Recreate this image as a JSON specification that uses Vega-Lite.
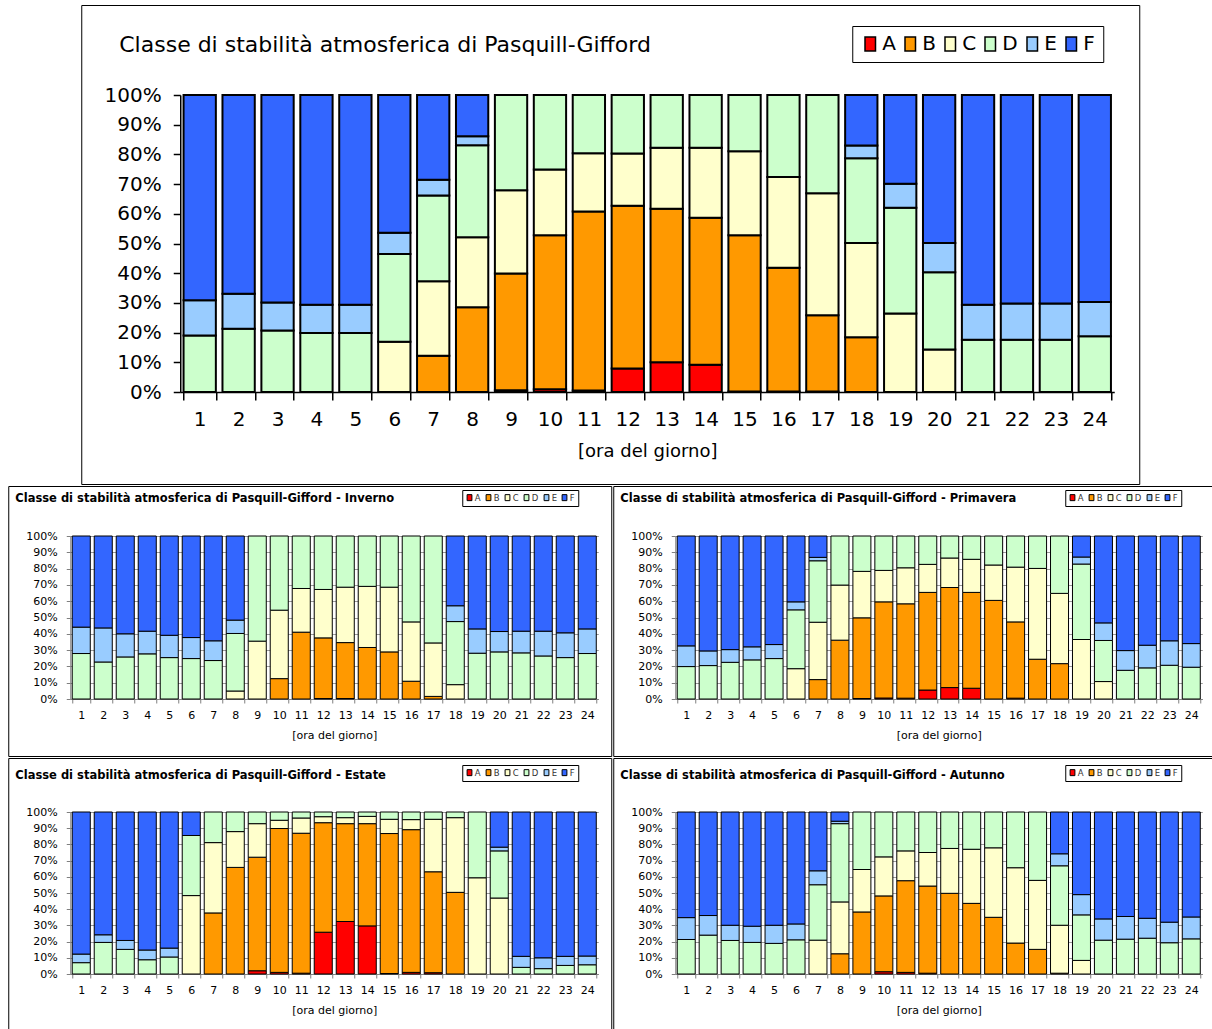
{
  "$schema": "https://vega.github.io/schema/vega-lite/v6.json",
  "padding": {"left": 7, "top": 4, "right": 0, "bottom": 0},
  "background": "white",
  "spacing": 0,
  "center": true,
  "resolve": {"scale": {"color": "independent"}, "legend": {"color": "independent"}},
  "datasets": {
    "main": [
      {"h":1,"A":0,"B":0,"C":0,"D":19.0,"E":11.9,"F":69.1},
      {"h":2,"A":0,"B":0,"C":0,"D":21.3,"E":11.8,"F":66.9},
      {"h":3,"A":0,"B":0,"C":0,"D":20.7,"E":9.4,"F":69.9},
      {"h":4,"A":0,"B":0,"C":0,"D":19.9,"E":9.5,"F":70.6},
      {"h":5,"A":0,"B":0,"C":0,"D":19.9,"E":9.5,"F":70.6},
      {"h":6,"A":0,"B":0,"C":16.9,"D":29.6,"E":7.1,"F":46.4},
      {"h":7,"A":0,"B":12.2,"C":25.1,"D":28.9,"E":5.3,"F":28.5},
      {"h":8,"A":0,"B":28.5,"C":23.6,"D":31.0,"E":3.0,"F":13.9},
      {"h":9,"A":0.6,"B":39.3,"C":28.0,"D":32.1,"E":0,"F":0},
      {"h":10,"A":0.9,"B":51.9,"C":22.1,"D":25.1,"E":0,"F":0},
      {"h":11,"A":0.5,"B":60.3,"C":19.6,"D":19.6,"E":0,"F":0},
      {"h":12,"A":7.9,"B":54.8,"C":17.6,"D":19.7,"E":0,"F":0},
      {"h":13,"A":10.0,"B":51.7,"C":20.5,"D":17.8,"E":0,"F":0},
      {"h":14,"A":9.2,"B":49.5,"C":23.5,"D":17.8,"E":0,"F":0},
      {"h":15,"A":0.2,"B":52.6,"C":28.3,"D":18.9,"E":0,"F":0},
      {"h":16,"A":0.2,"B":41.6,"C":30.6,"D":27.6,"E":0,"F":0},
      {"h":17,"A":0.2,"B":25.6,"C":41.1,"D":33.1,"E":0,"F":0},
      {"h":18,"A":0,"B":18.4,"C":31.8,"D":28.5,"E":4.3,"F":17.0},
      {"h":19,"A":0,"B":0,"C":26.4,"D":35.6,"E":8.1,"F":29.9},
      {"h":20,"A":0,"B":0,"C":14.3,"D":26.0,"E":9.9,"F":49.8},
      {"h":21,"A":0,"B":0,"C":0,"D":17.6,"E":11.8,"F":70.6},
      {"h":22,"A":0,"B":0,"C":0,"D":17.6,"E":12.2,"F":70.2},
      {"h":23,"A":0,"B":0,"C":0,"D":17.6,"E":12.2,"F":70.2},
      {"h":24,"A":0,"B":0,"C":0,"D":18.8,"E":11.5,"F":69.7}
    ],
    "inv": [
      {"h":1,"A":0,"B":0,"C":0,"D":27.9,"E":16.2,"F":55.9},
      {"h":2,"A":0,"B":0,"C":0,"D":22.7,"E":20.9,"F":56.4},
      {"h":3,"A":0,"B":0,"C":0,"D":25.8,"E":14.2,"F":60.0},
      {"h":4,"A":0,"B":0,"C":0,"D":27.7,"E":13.9,"F":58.4},
      {"h":5,"A":0,"B":0,"C":0,"D":25.4,"E":13.7,"F":60.9},
      {"h":6,"A":0,"B":0,"C":0,"D":24.8,"E":12.9,"F":62.3},
      {"h":7,"A":0,"B":0,"C":0,"D":23.6,"E":12.1,"F":64.3},
      {"h":8,"A":0,"B":0,"C":4.9,"D":35.3,"E":8.2,"F":51.6},
      {"h":9,"A":0,"B":0,"C":35.5,"D":64.5,"E":0,"F":0},
      {"h":10,"A":0,"B":12.5,"C":42.0,"D":45.5,"E":0,"F":0},
      {"h":11,"A":0,"B":41.0,"C":26.8,"D":32.2,"E":0,"F":0},
      {"h":12,"A":0.3,"B":37.2,"C":29.7,"D":32.8,"E":0,"F":0},
      {"h":13,"A":0.3,"B":34.3,"C":34.0,"D":31.4,"E":0,"F":0},
      {"h":14,"A":0,"B":31.6,"C":37.5,"D":30.9,"E":0,"F":0},
      {"h":15,"A":0,"B":28.9,"C":39.7,"D":31.4,"E":0,"F":0},
      {"h":16,"A":0,"B":10.9,"C":36.4,"D":52.7,"E":0,"F":0},
      {"h":17,"A":0,"B":1.6,"C":32.8,"D":65.6,"E":0,"F":0},
      {"h":18,"A":0,"B":0,"C":8.8,"D":38.7,"E":9.7,"F":42.8},
      {"h":19,"A":0,"B":0,"C":0,"D":28.1,"E":14.9,"F":57.0},
      {"h":20,"A":0,"B":0,"C":0,"D":28.9,"E":12.5,"F":58.6},
      {"h":21,"A":0,"B":0,"C":0,"D":28.3,"E":13.3,"F":58.4},
      {"h":22,"A":0,"B":0,"C":0,"D":26.4,"E":15.2,"F":58.4},
      {"h":23,"A":0,"B":0,"C":0,"D":25.4,"E":15.2,"F":59.4},
      {"h":24,"A":0,"B":0,"C":0,"D":27.9,"E":15.1,"F":57.0}
    ],
    "pri": [
      {"h":1,"A":0,"B":0,"C":0,"D":19.9,"E":12.7,"F":67.4},
      {"h":2,"A":0,"B":0,"C":0,"D":20.5,"E":9.0,"F":70.5},
      {"h":3,"A":0,"B":0,"C":0,"D":22.5,"E":7.8,"F":69.7},
      {"h":4,"A":0,"B":0,"C":0,"D":24.0,"E":8.0,"F":68.0},
      {"h":5,"A":0,"B":0,"C":0,"D":24.8,"E":8.6,"F":66.6},
      {"h":6,"A":0,"B":0,"C":18.6,"D":36.1,"E":4.9,"F":40.4},
      {"h":7,"A":0,"B":11.9,"C":35.2,"D":37.7,"E":2.1,"F":13.1},
      {"h":8,"A":0,"B":36.1,"C":33.8,"D":30.1,"E":0,"F":0},
      {"h":9,"A":0.3,"B":49.5,"C":28.5,"D":21.7,"E":0,"F":0},
      {"h":10,"A":0.6,"B":59.0,"C":19.3,"D":21.1,"E":0,"F":0},
      {"h":11,"A":0.5,"B":57.9,"C":22.1,"D":19.5,"E":0,"F":0},
      {"h":12,"A":5.5,"B":59.9,"C":17.2,"D":17.4,"E":0,"F":0},
      {"h":13,"A":7.0,"B":61.4,"C":18.1,"D":13.5,"E":0,"F":0},
      {"h":14,"A":6.6,"B":58.8,"C":20.3,"D":14.3,"E":0,"F":0},
      {"h":15,"A":0,"B":60.5,"C":21.7,"D":17.8,"E":0,"F":0},
      {"h":16,"A":0.5,"B":46.8,"C":33.6,"D":19.1,"E":0,"F":0},
      {"h":17,"A":0,"B":24.4,"C":55.7,"D":19.9,"E":0,"F":0},
      {"h":18,"A":0,"B":21.7,"C":43.1,"D":35.2,"E":0,"F":0},
      {"h":19,"A":0,"B":0,"C":36.5,"D":46.3,"E":4.3,"F":12.9},
      {"h":20,"A":0,"B":0,"C":10.7,"D":25.2,"E":10.8,"F":53.3},
      {"h":21,"A":0,"B":0,"C":0,"D":17.6,"E":12.1,"F":70.3},
      {"h":22,"A":0,"B":0,"C":0,"D":19.1,"E":13.9,"F":67.0},
      {"h":23,"A":0,"B":0,"C":0,"D":20.7,"E":15.0,"F":64.3},
      {"h":24,"A":0,"B":0,"C":0,"D":19.5,"E":14.5,"F":66.0}
    ],
    "est": [
      {"h":1,"A":0,"B":0,"C":0,"D":7.0,"E":5.3,"F":87.7},
      {"h":2,"A":0,"B":0,"C":0,"D":19.5,"E":4.7,"F":75.8},
      {"h":3,"A":0,"B":0,"C":0,"D":15.2,"E":5.5,"F":79.3},
      {"h":4,"A":0,"B":0,"C":0,"D":8.8,"E":6.0,"F":85.2},
      {"h":5,"A":0,"B":0,"C":0,"D":10.5,"E":5.5,"F":84.0},
      {"h":6,"A":0,"B":0,"C":48.4,"D":37.1,"E":0,"F":14.5},
      {"h":7,"A":0,"B":37.7,"C":43.4,"D":18.9,"E":0,"F":0},
      {"h":8,"A":0,"B":65.8,"C":22.1,"D":12.1,"E":0,"F":0},
      {"h":9,"A":2.0,"B":70.1,"C":20.7,"D":7.2,"E":0,"F":0},
      {"h":10,"A":1.0,"B":88.8,"C":5.1,"D":5.1,"E":0,"F":0},
      {"h":11,"A":0.5,"B":86.4,"C":9.4,"D":3.7,"E":0,"F":0},
      {"h":12,"A":25.8,"B":67.6,"C":3.7,"D":2.9,"E":0,"F":0},
      {"h":13,"A":32.4,"B":60.4,"C":3.7,"D":3.5,"E":0,"F":0},
      {"h":14,"A":29.7,"B":63.1,"C":4.5,"D":2.7,"E":0,"F":0},
      {"h":15,"A":0.3,"B":86.4,"C":8.8,"D":4.5,"E":0,"F":0},
      {"h":16,"A":1.0,"B":88.1,"C":6.2,"D":4.7,"E":0,"F":0},
      {"h":17,"A":0.8,"B":62.3,"C":32.4,"D":4.5,"E":0,"F":0},
      {"h":18,"A":0,"B":50.4,"C":46.1,"D":3.5,"E":0,"F":0},
      {"h":19,"A":0,"B":0,"C":59.4,"D":40.6,"E":0,"F":0},
      {"h":20,"A":0,"B":0,"C":46.9,"D":29.1,"E":2.3,"F":21.7},
      {"h":21,"A":0,"B":0,"C":0,"D":4.1,"E":6.8,"F":89.1},
      {"h":22,"A":0,"B":0,"C":0,"D":3.3,"E":6.7,"F":90.0},
      {"h":23,"A":0,"B":0,"C":0,"D":5.3,"E":5.6,"F":89.1},
      {"h":24,"A":0,"B":0,"C":0,"D":5.7,"E":5.4,"F":88.9}
    ],
    "aut": [
      {"h":1,"A":0,"B":0,"C":0,"D":21.3,"E":13.5,"F":65.2},
      {"h":2,"A":0,"B":0,"C":0,"D":24.0,"E":12.1,"F":63.9},
      {"h":3,"A":0,"B":0,"C":0,"D":20.7,"E":9.4,"F":69.9},
      {"h":4,"A":0,"B":0,"C":0,"D":19.5,"E":10.0,"F":70.5},
      {"h":5,"A":0,"B":0,"C":0,"D":18.9,"E":11.2,"F":69.9},
      {"h":6,"A":0,"B":0,"C":0,"D":21.1,"E":9.8,"F":69.1},
      {"h":7,"A":0,"B":0,"C":20.9,"D":34.2,"E":8.6,"F":36.3},
      {"h":8,"A":0,"B":12.5,"C":32.0,"D":48.3,"E":1.5,"F":5.7},
      {"h":9,"A":0,"B":38.3,"C":26.2,"D":35.5,"E":0,"F":0},
      {"h":10,"A":1.4,"B":46.8,"C":24.1,"D":27.7,"E":0,"F":0},
      {"h":11,"A":1.0,"B":56.6,"C":18.4,"D":24.0,"E":0,"F":0},
      {"h":12,"A":0.5,"B":53.8,"C":20.7,"D":25.0,"E":0,"F":0},
      {"h":13,"A":0,"B":49.8,"C":27.7,"D":22.5,"E":0,"F":0},
      {"h":14,"A":0,"B":43.6,"C":33.4,"D":23.0,"E":0,"F":0},
      {"h":15,"A":0,"B":35.0,"C":42.9,"D":22.1,"E":0,"F":0},
      {"h":16,"A":0,"B":19.1,"C":46.5,"D":34.4,"E":0,"F":0},
      {"h":17,"A":0,"B":15.2,"C":42.6,"D":42.2,"E":0,"F":0},
      {"h":18,"A":0,"B":0.5,"C":29.6,"D":36.7,"E":7.4,"F":25.8},
      {"h":19,"A":0,"B":0,"C":8.4,"D":28.1,"E":12.5,"F":51.0},
      {"h":20,"A":0,"B":0,"C":0,"D":20.9,"E":13.1,"F":66.0},
      {"h":21,"A":0,"B":0,"C":0,"D":21.5,"E":14.0,"F":64.5},
      {"h":22,"A":0,"B":0,"C":0,"D":22.1,"E":12.3,"F":65.6},
      {"h":23,"A":0,"B":0,"C":0,"D":19.3,"E":12.7,"F":68.0},
      {"h":24,"A":0,"B":0,"C":0,"D":21.7,"E":13.5,"F":64.8}
    ]
  },
  "vconcat": [
    {
      "width": 1058, "height": 479,
      "data": {"name": "main"},
      "transform": [{"fold": ["A","B","C","D","E","F"], "as": ["c","v"]}, {"filter": "datum.v > 0"}],
      "title": {"text": "Classe di stabilità atmosferica di Pasquill-Gifford", "anchor": "start", "frame": "group", "font": "DejaVu Sans", "fontSize": 22, "fontWeight": "normal", "offset": 0, "dx": 38, "dy": 52},
      "mark": {"type": "bar", "stroke": "black", "strokeWidth": 2},
      "encoding": {
        "x": {"field": "h", "type": "ordinal", "scale": {"range": [99, 1033], "paddingInner": 0.17, "paddingOuter": 0.085},
              "axis": {"title": "[ora del giorno]", "labelAngle": 0, "offset": -92, "tickBand": "extent", "tickSize": 8, "labelPadding": 9, "labelFontSize": 20, "titleFontSize": 18, "titleFontWeight": "normal", "titlePadding": 13, "domainColor": "black", "tickColor": "black", "domainWidth": 1.5, "tickWidth": 1.5, "grid": false}},
        "y": {"field": "v", "type": "quantitative", "stack": "normalize", "scale": {"range": [387, 90]},
              "axis": {"title": null, "format": ".0%", "values": [0,0.1,0.2,0.3,0.4,0.5,0.6,0.7,0.8,0.9,1], "offset": -99, "tickSize": 7, "labelPadding": 12, "labelFontSize": 20, "domainColor": "black", "tickColor": "black", "domainWidth": 1.5, "tickWidth": 1.5, "grid": false}},
        "color": {"field": "c", "type": "nominal", "scale": {"domain": ["A","B","C","D","E","F"], "range": ["#FF0000","#FF9900","#FFFFCC","#CCFFCC","#99CCFF","#3366FF"]},
                  "legend": {"orient": "none", "legendX": 771, "legendY": 21, "direction": "horizontal", "columns": 6, "title": null, "symbolType": "M-0.75,-1H0.75V1H-0.75Z", "symbolSize": 196, "symbolStrokeColor": "black", "symbolStrokeWidth": 1.5, "labelFontSize": 20, "labelColor": "black", "labelOffset": 2, "columnPadding": 4, "padding": 8, "strokeColor": "black", "fillColor": "white"}},
        "order": {"field": "c", "sort": "ascending"}
      }
    },
    {
      "hconcat": [
        {
          "width": 603, "height": 270,
          "data": {"name": "inv"},
          "transform": [{"fold": ["A","B","C","D","E","F"], "as": ["c","v"]}, {"filter": "datum.v > 0"}],
          "title": {"text": "Classe di stabilità atmosferica di Pasquill-Gifford - Inverno", "anchor": "start", "frame": "group", "font": "DejaVu Sans", "fontSize": 11.5, "fontWeight": "bold", "offset": 0, "dx": 7, "dy": 18},
          "mark": {"type": "bar", "stroke": "black", "strokeWidth": 1},
          "encoding": {
            "x": {"field": "h", "type": "ordinal", "scale": {"range": [62, 590], "paddingInner": 0.18, "paddingOuter": 0.09},
                  "axis": {"title": "[ora del giorno]", "labelAngle": 0, "offset": -57, "tickBand": "extent", "tickSize": 4, "labelPadding": 6, "labelFontSize": 11, "titleFontSize": 11, "titleFontWeight": "normal", "titlePadding": 9, "domainColor": "#808080", "tickColor": "#808080", "grid": false}},
            "y": {"field": "v", "type": "quantitative", "stack": "normalize", "scale": {"range": [213, 50]},
                  "axis": {"title": null, "format": ".0%", "values": [0,0.1,0.2,0.3,0.4,0.5,0.6,0.7,0.8,0.9,1], "offset": -62, "tickSize": 4, "labelPadding": 9, "labelFontSize": 11, "domainColor": "#808080", "tickColor": "#808080", "grid": true, "gridColor": "#999999"}},
            "color": {"field": "c", "type": "nominal", "scale": {"domain": ["A","B","C","D","E","F"], "range": ["#FF0000","#FF9900","#FFFFCC","#CCFFCC","#99CCFF","#3366FF"]},
                      "legend": {"orient": "none", "legendX": 454, "legendY": 4, "direction": "horizontal", "columns": 6, "title": null, "symbolType": "M-0.8,-1H0.8V1H-0.8Z", "symbolSize": 36, "symbolStrokeColor": "black", "symbolStrokeWidth": 1, "labelFontSize": 8.5, "labelColor": "#333", "labelOffset": 1, "columnPadding": 2, "padding": 3, "strokeColor": "black", "fillColor": "white"}},
            "order": {"field": "c", "sort": "ascending"}
          }
        },
        {
          "width": 599, "height": 270,
          "data": {"name": "pri"},
          "transform": [{"fold": ["A","B","C","D","E","F"], "as": ["c","v"]}, {"filter": "datum.v > 0"}],
          "title": {"text": "Classe di stabilità atmosferica di Pasquill-Gifford - Primavera", "anchor": "start", "frame": "group", "font": "DejaVu Sans", "fontSize": 11.5, "fontWeight": "bold", "offset": 0, "dx": 7, "dy": 18},
          "mark": {"type": "bar", "stroke": "black", "strokeWidth": 1},
          "encoding": {
            "x": {"field": "h", "type": "ordinal", "scale": {"range": [62, 589], "paddingInner": 0.18, "paddingOuter": 0.09},
                  "axis": {"title": "[ora del giorno]", "labelAngle": 0, "offset": -57, "tickBand": "extent", "tickSize": 4, "labelPadding": 6, "labelFontSize": 11, "titleFontSize": 11, "titleFontWeight": "normal", "titlePadding": 9, "domainColor": "#808080", "tickColor": "#808080", "grid": false}},
            "y": {"field": "v", "type": "quantitative", "stack": "normalize", "scale": {"range": [213, 50]},
                  "axis": {"title": null, "format": ".0%", "values": [0,0.1,0.2,0.3,0.4,0.5,0.6,0.7,0.8,0.9,1], "offset": -62, "tickSize": 4, "labelPadding": 9, "labelFontSize": 11, "domainColor": "#808080", "tickColor": "#808080", "grid": true, "gridColor": "#999999"}},
            "color": {"field": "c", "type": "nominal", "scale": {"domain": ["A","B","C","D","E","F"], "range": ["#FF0000","#FF9900","#FFFFCC","#CCFFCC","#99CCFF","#3366FF"]},
                      "legend": {"orient": "none", "legendX": 452, "legendY": 4, "direction": "horizontal", "columns": 6, "title": null, "symbolType": "M-0.8,-1H0.8V1H-0.8Z", "symbolSize": 36, "symbolStrokeColor": "black", "symbolStrokeWidth": 1, "labelFontSize": 8.5, "labelColor": "#333", "labelOffset": 1, "columnPadding": 2, "padding": 3, "strokeColor": "black", "fillColor": "white"}},
            "order": {"field": "c", "sort": "ascending"}
          }
        }
      ],
      "spacing": 0,
      "resolve": {"scale": {"color": "independent"}, "legend": {"color": "independent"}}
    },
    {
      "hconcat": [
        {
          "width": 603, "height": 271,
          "data": {"name": "est"},
          "transform": [{"fold": ["A","B","C","D","E","F"], "as": ["c","v"]}, {"filter": "datum.v > 0"}],
          "title": {"text": "Classe di stabilità atmosferica di Pasquill-Gifford - Estate", "anchor": "start", "frame": "group", "font": "DejaVu Sans", "fontSize": 11.5, "fontWeight": "bold", "offset": 0, "dx": 7, "dy": 23},
          "mark": {"type": "bar", "stroke": "black", "strokeWidth": 1},
          "encoding": {
            "x": {"field": "h", "type": "ordinal", "scale": {"range": [62, 590], "paddingInner": 0.18, "paddingOuter": 0.09},
                  "axis": {"title": "[ora del giorno]", "labelAngle": 0, "offset": -55, "tickBand": "extent", "tickSize": 4, "labelPadding": 6, "labelFontSize": 11, "titleFontSize": 11, "titleFontWeight": "normal", "titlePadding": 9, "domainColor": "#808080", "tickColor": "#808080", "grid": false}},
            "y": {"field": "v", "type": "quantitative", "stack": "normalize", "scale": {"range": [216, 54]},
                  "axis": {"title": null, "format": ".0%", "values": [0,0.1,0.2,0.3,0.4,0.5,0.6,0.7,0.8,0.9,1], "offset": -62, "tickSize": 4, "labelPadding": 9, "labelFontSize": 11, "domainColor": "#808080", "tickColor": "#808080", "grid": true, "gridColor": "#999999"}},
            "color": {"field": "c", "type": "nominal", "scale": {"domain": ["A","B","C","D","E","F"], "range": ["#FF0000","#FF9900","#FFFFCC","#CCFFCC","#99CCFF","#3366FF"]},
                      "legend": {"orient": "none", "legendX": 454, "legendY": 7, "direction": "horizontal", "columns": 6, "title": null, "symbolType": "M-0.8,-1H0.8V1H-0.8Z", "symbolSize": 36, "symbolStrokeColor": "black", "symbolStrokeWidth": 1, "labelFontSize": 8.5, "labelColor": "#333", "labelOffset": 1, "columnPadding": 2, "padding": 3, "strokeColor": "black", "fillColor": "white"}},
            "order": {"field": "c", "sort": "ascending"}
          }
        },
        {
          "width": 599, "height": 271,
          "data": {"name": "aut"},
          "transform": [{"fold": ["A","B","C","D","E","F"], "as": ["c","v"]}, {"filter": "datum.v > 0"}],
          "title": {"text": "Classe di stabilità atmosferica di Pasquill-Gifford - Autunno", "anchor": "start", "frame": "group", "font": "DejaVu Sans", "fontSize": 11.5, "fontWeight": "bold", "offset": 0, "dx": 7, "dy": 23},
          "mark": {"type": "bar", "stroke": "black", "strokeWidth": 1},
          "encoding": {
            "x": {"field": "h", "type": "ordinal", "scale": {"range": [62, 589], "paddingInner": 0.18, "paddingOuter": 0.09},
                  "axis": {"title": "[ora del giorno]", "labelAngle": 0, "offset": -55, "tickBand": "extent", "tickSize": 4, "labelPadding": 6, "labelFontSize": 11, "titleFontSize": 11, "titleFontWeight": "normal", "titlePadding": 9, "domainColor": "#808080", "tickColor": "#808080", "grid": false}},
            "y": {"field": "v", "type": "quantitative", "stack": "normalize", "scale": {"range": [216, 54]},
                  "axis": {"title": null, "format": ".0%", "values": [0,0.1,0.2,0.3,0.4,0.5,0.6,0.7,0.8,0.9,1], "offset": -62, "tickSize": 4, "labelPadding": 9, "labelFontSize": 11, "domainColor": "#808080", "tickColor": "#808080", "grid": true, "gridColor": "#999999"}},
            "color": {"field": "c", "type": "nominal", "scale": {"domain": ["A","B","C","D","E","F"], "range": ["#FF0000","#FF9900","#FFFFCC","#CCFFCC","#99CCFF","#3366FF"]},
                      "legend": {"orient": "none", "legendX": 452, "legendY": 7, "direction": "horizontal", "columns": 6, "title": null, "symbolType": "M-0.8,-1H0.8V1H-0.8Z", "symbolSize": 36, "symbolStrokeColor": "black", "symbolStrokeWidth": 1, "labelFontSize": 8.5, "labelColor": "#333", "labelOffset": 1, "columnPadding": 2, "padding": 3, "strokeColor": "black", "fillColor": "white"}},
            "order": {"field": "c", "sort": "ascending"}
          }
        }
      ],
      "spacing": 0,
      "resolve": {"scale": {"color": "independent"}, "legend": {"color": "independent"}}
    }
  ],
  "config": {
    "view": {"stroke": "black", "strokeWidth": 1},
    "axis": {"labelColor": "black", "titleColor": "black", "labelFont": "DejaVu Sans", "titleFont": "DejaVu Sans"},
    "legend": {"labelFont": "DejaVu Sans"},
    "title": {"color": "black"}
  }
}
